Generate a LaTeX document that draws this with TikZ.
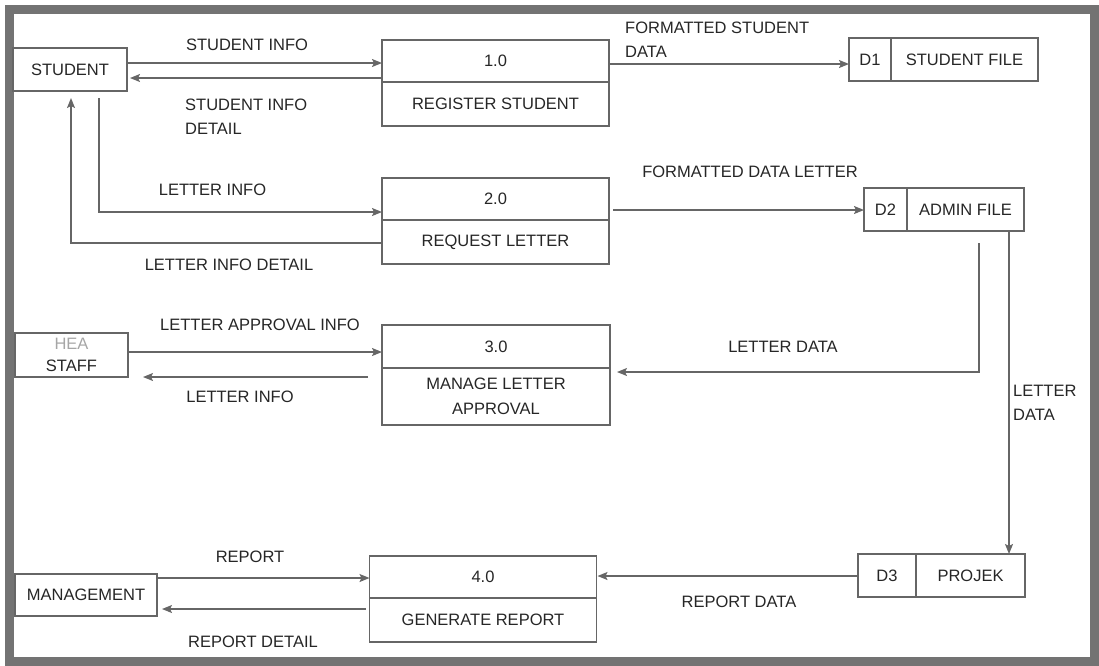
\documentclass[tikz,border=0pt]{standalone}
\usepackage{fontspec}
\setmainfont{Liberation Sans}
\usepackage{tikz}
\usetikzlibrary{arrows.meta, positioning}

\begin{document}
\begin{tikzpicture}[x=1pt, y=-1pt,
		>={Stealth[length=10pt, width=8pt, inset=2pt]},   %Pfeilspitzen
		font=\fontsize{16.5}{24}\selectfont, text=black!85,
		entity/.style={draw=black!60, line width=1.6pt, minimum height=43pt, inner sep=0pt, outer sep=0pt, align=center},
		pnum/.style={draw=black!60, line width=1.6pt, minimum width=227pt, minimum height=42pt, inner sep=0pt, outer sep=0pt},
		pname/.style={pnum, minimum height=44pt, align=center},
		sid/.style={draw=black!60, line width=1.6pt, minimum height=43pt, inner sep=0pt, outer sep=0pt},
		sname/.style={sid},
		flow/.style={->, draw=black!60, line width=1.5pt},
		lbl/.style={inner sep=0pt, align=left}]
		% Bildbereich und Rahmen
		\useasboundingbox (0,0) rectangle (1099,665);
		\draw[black!55, line width=9pt] (9.5,9.5) rectangle (1094.5,661);
		% Externe Einheiten
		\node[entity, minimum width=114pt] (student) at (70,69.5) {STUDENT};
		\node[entity, minimum width=113pt, minimum height=44pt, font=\fontsize{16.5}{22}\selectfont] (hea) at (71.5,355) {\textcolor{black!35}{HEA}\\STAFF};
		\node[entity, minimum width=142pt, minimum height=42pt] (mgmt) at (86,595) {MANAGEMENT};
		% Prozesse
		\node[pnum] (p1) at (495.5,61) {1.0};
		\node[pname, below=0pt of p1] (p1n) {REGISTER STUDENT};
		\node[pnum] (p2) at (495.5,199) {2.0};
		\node[pname, below=0pt of p2] (p2n) {REQUEST LETTER};
		\node[pnum, minimum width=228pt, minimum height=43pt] (p3) at (496,346.5) {3.0};
		\node[pname, minimum width=228pt, minimum height=57pt, font=\fontsize{16.5}{25}\selectfont, below=0pt of p3] (p3n) {MANAGE LETTER\\APPROVAL};
		\node[pnum] (p4) at (483,577) {4.0};
		\node[pname, below=0pt of p4] (p4n) {GENERATE REPORT};
		% Datenspeicher
		\node[sid, minimum width=42pt] (d1) at (870,59.5) {D1};
		\node[sname, minimum width=147pt, right=0pt of d1] (d1n) {STUDENT FILE};
		\node[sid, minimum width=43pt] (d2) at (885.5,209.5) {D2};
		\node[sname, minimum width=117pt, right=0pt of d2] (d2n) {ADMIN FILE};
		\node[sid, minimum width=58pt] (d3) at (887,575.5) {D3};
		\node[sname, minimum width=109pt, right=0pt of d3] (d3n) {PROJEK};
		% Hilfspunkte
		\coordinate (sout) at ([xshift=29pt]student.south);
		\coordinate (sin) at ([xshift=1pt]student.south);
		\coordinate (dl) at ([xshift=-45pt]d2n.south east);
		\coordinate (dr) at ([xshift=-15pt]d2n.south east);
		% Datenfluesse
		\draw[flow] (student.east |- 0,63) -- (p1.west |- 0,63);
		\draw[flow, shorten >=3pt] (p1.west |- 0,78) -- (student.east |- 0,78);
		\draw[flow, shorten <=7pt] (sout) |- (p2.west |- 0,212);
		\draw[flow, shorten >=7pt] (p2n.west |- 0,243) -| (sin);
		\draw[flow] (p1.east |- 0,64) -- (d1.west |- 0,64);
		\draw[flow, shorten <=4pt] (p2.east |- 0,210) -- (d2.west |- 0,210);
		\draw[flow] (hea.east |- 0,352) -- (p3.west |- 0,352);
		\draw[flow, shorten <=14pt, shorten >=15pt] (p3.west |- 0,377) -- (hea.east |- 0,377);
		\draw[flow, shorten <=12pt, shorten >=7pt] (dl) |- (p3n.east |- 0,372);
		\draw[flow] (dr) -- (dr |- d3n.north);
		\draw[flow, shorten >=1pt] (d3.west |- 0,576) -- (p4.east |- 0,576);
		\draw[flow] (mgmt.east |- 0,578) -- (p4.west |- 0,578);
		\draw[flow, shorten <=4pt, shorten >=5pt] (p4n.west |- 0,609) -- (mgmt.east |- 0,609);
		% Beschriftungen
		\node[lbl] (l1) at (247,45) {STUDENT INFO};
		\node[lbl, anchor=west] (l2) at (185,116.5) {STUDENT INFO\\DETAIL};
		\node[lbl] (l3) at (212.5,190) {LETTER INFO};
		\node[lbl] (l4) at (229,265) {LETTER INFO DETAIL};
		\node[lbl, anchor=west] (l5) at (625,39.5) {FORMATTED STUDENT\\DATA};
		\node[lbl] (l6) at (750,172) {FORMATTED DATA LETTER};
		\node[lbl] (l7) at (260,325) {LETTER APPROVAL INFO};
		\node[lbl] (l8) at (240,397) {LETTER INFO};
		\node[lbl] (l9) at (783,347) {LETTER DATA};
		\node[lbl, anchor=west] (l10) at (1013,402.5) {LETTER\\DATA};
		\node[lbl] (l11) at (250,557) {REPORT};
		\node[lbl] (l12) at (253,642) {REPORT DETAIL};
		\node[lbl] (l13) at (739,602) {REPORT DATA};
	\end{tikzpicture}
\end{document}
